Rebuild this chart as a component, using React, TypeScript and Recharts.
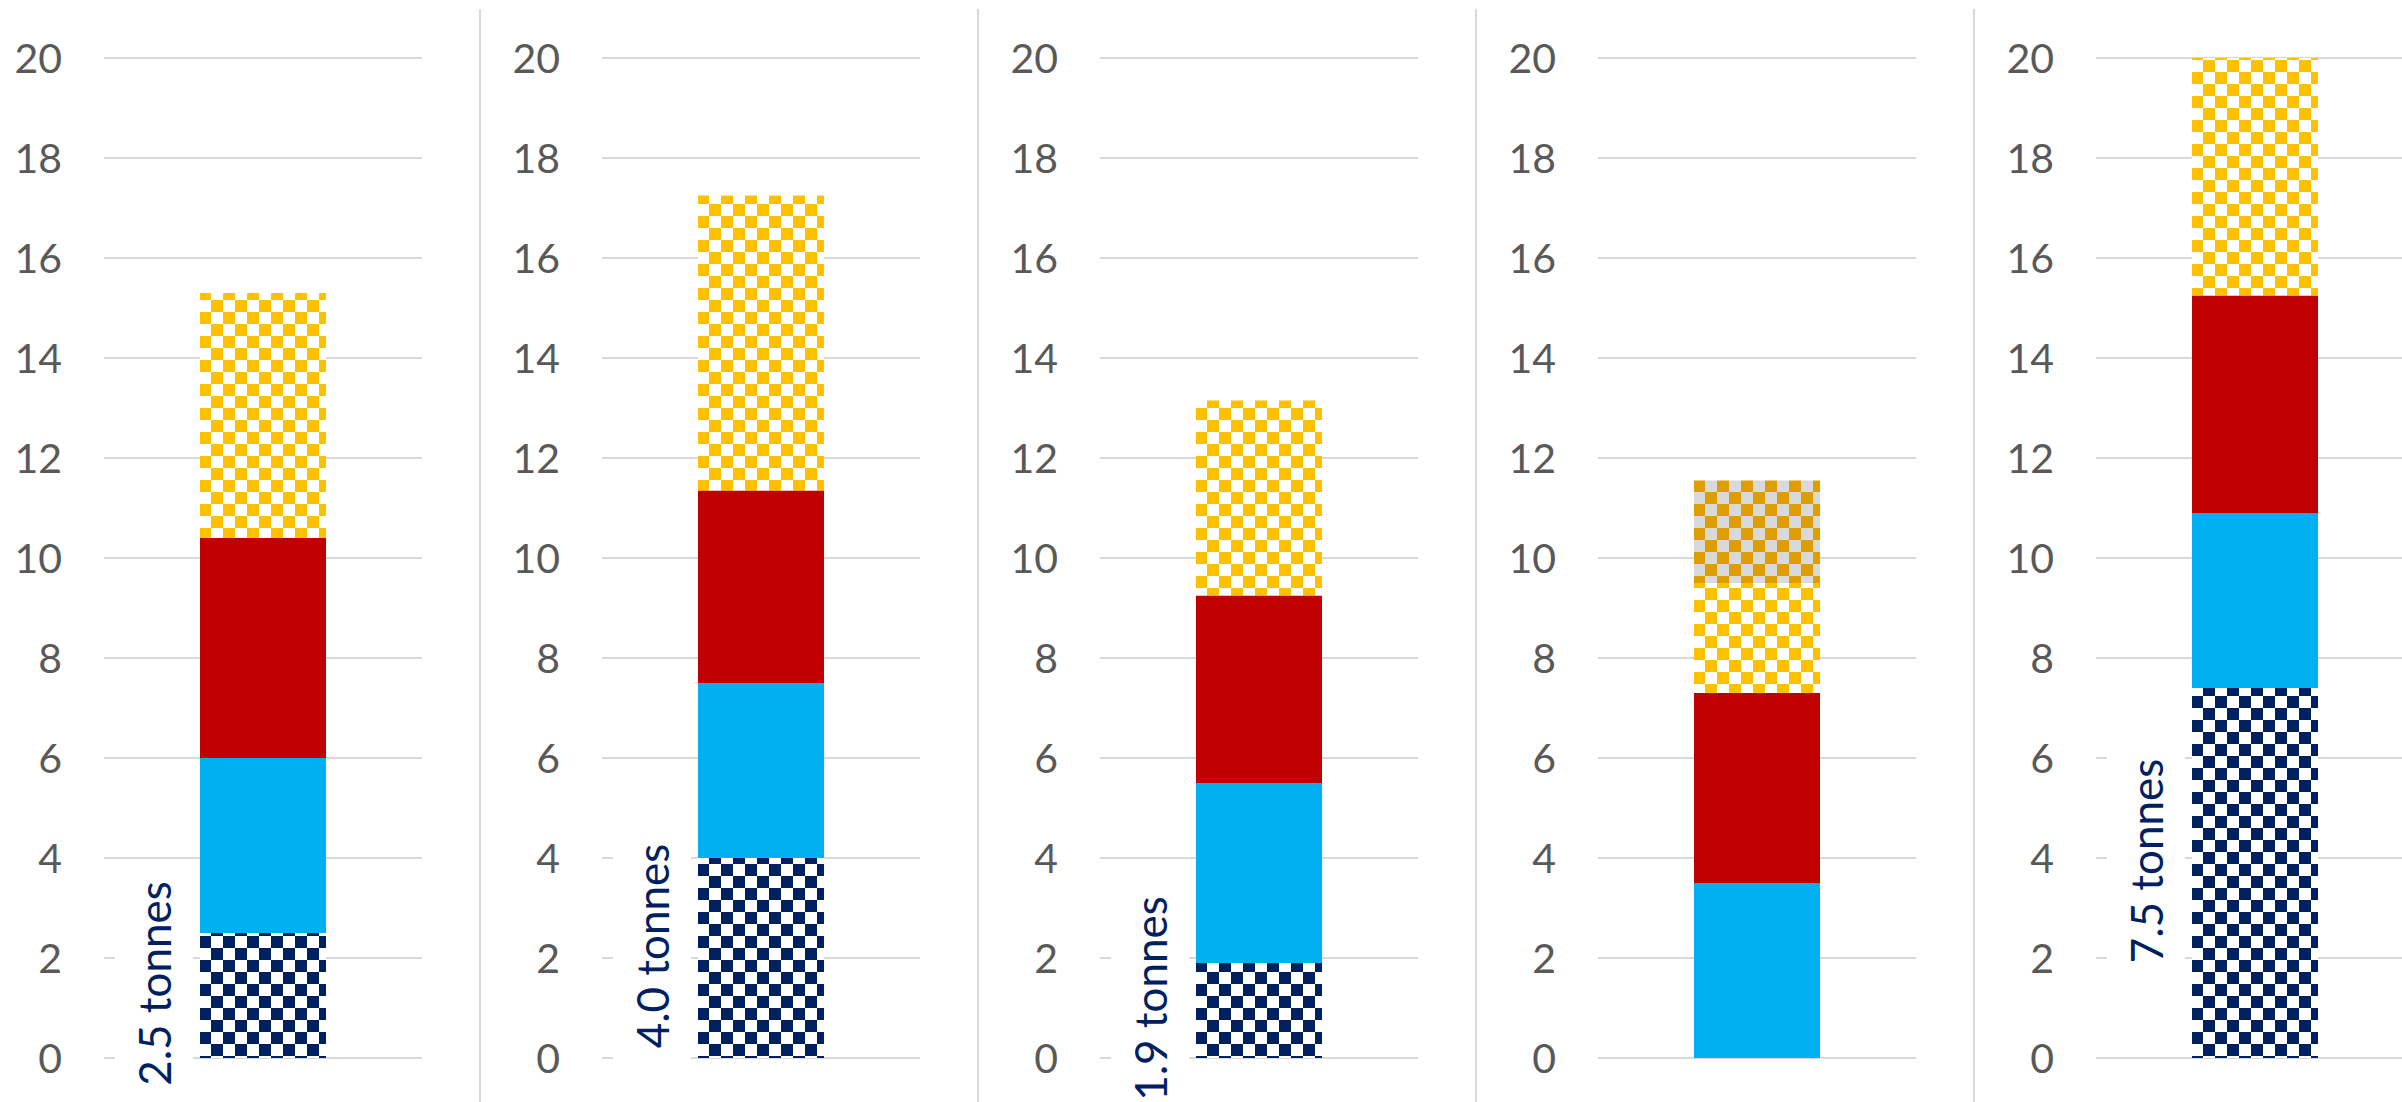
import { BarChart, Bar, XAxis, YAxis, CartesianGrid, LabelList } from 'recharts';

// one small chart per panel
const panels = ['Panel 1', 'Panel 2', 'Panel 3', 'Panel 4', 'Panel 5'];
const navy = [2.5, 4.0, 1.9, 0, 7.4];
const cyan = [3.5, 3.5, 3.6, 3.5, 3.5];
const red = [4.4, 3.85, 3.75, 3.8, 4.35];
const yellow = [4.9, 5.9, 3.9, 2.2, 4.75];
const yellowGrey = [0, 0, 0, 2.05, 0];
const navyLabels = ['2.5 tonnes', '4.0 tonnes', '1.9 tonnes', '', '7.5 tonnes'];
const yTicks = [0, 2, 4, 6, 8, 10, 12, 14, 16, 18, 20];

const PANEL_W = 498;
const PANEL_X0 = -17;

// rotated "x tonnes" label to the left of the navy segment
const renderTonnes = (props: any) => {
  const { x, y, width, height, value } = props;
  if (!value) return null;
  const cx = Number(x) - 7 - 39;
  const cy = Number(y) + Number(height) / 2 - 12;
  return (
    <g>
      <rect x={cx - 39} y={cy - 115} width={78} height={230} fill="#ffffff" />
      <text
        x={cx}
        y={cy}
        transform={`rotate(-90 ${cx} ${cy})`}
        textAnchor="middle"
        dominantBaseline="central"
        fill="#002060"
        fontSize={44}
        fontFamily="Lato"
      >
        {value}
      </text>
    </g>
  );
};

function Checker({ id, fg, bg }: { id: string; fg: string; bg: string }) {
  return (
    <pattern id={id} width={24} height={24} patternUnits="userSpaceOnUse">
      <rect x={0} y={0} width={24} height={24} fill={bg} />
      <rect x={0} y={0} width={12} height={12} fill={fg} />
      <rect x={12} y={12} width={12} height={12} fill={fg} />
    </pattern>
  );
}

function Panel({ i }: { i: number }) {
  const data = [
    {
      name: panels[i],
      navy: navy[i],
      cyan: cyan[i],
      red: red[i],
      yellow: yellow[i],
      yellowGrey: yellowGrey[i],
      label: navyLabels[i],
    },
  ];
  return (
    <div style={{ position: 'absolute', left: PANEL_X0 + PANEL_W * i, top: 0, width: PANEL_W, height: 1102 }}>
      <BarChart width={PANEL_W} height={1102} data={data} margin={{ top: 58, right: 59, bottom: 44, left: 0 }}>
        <defs>
          <Checker id={`navyChk${i}`} fg="#002060" bg="#ffffff" />
          <Checker id={`yellowChk${i}`} fg="#FFC000" bg="#ffffff" />
          <Checker id={`greyChk${i}`} fg="#DE9D00" bg="#D9D9D9" />
        </defs>
        <CartesianGrid vertical={false} stroke="#d9d9d9" strokeWidth={2} />
        <XAxis dataKey="name" hide />
        <YAxis
          width={121}
          domain={[0, 20]}
          ticks={yTicks}
          interval={0}
          axisLine={false}
          tickLine={false}
          tickSize={0}
          tickMargin={42}
          tick={{ fill: '#595959', fontSize: 41, fontFamily: 'Lato' }}
        />
        <Bar dataKey="navy" stackId="a" barSize={126} fill={`url(#navyChk${i})`} isAnimationActive={false}>
          <LabelList dataKey="label" content={renderTonnes} />
        </Bar>
        <Bar dataKey="cyan" stackId="a" barSize={126} fill="#00B0F0" isAnimationActive={false} />
        <Bar dataKey="red" stackId="a" barSize={126} fill="#C00000" isAnimationActive={false} />
        <Bar dataKey="yellow" stackId="a" barSize={126} fill={`url(#yellowChk${i})`} isAnimationActive={false} />
        <Bar dataKey="yellowGrey" stackId="a" barSize={126} fill={`url(#greyChk${i})`} isAnimationActive={false} />
      </BarChart>
      {i < panels.length - 1 && (
        <div style={{ position: 'absolute', left: 496, top: 9, width: 2, height: 1093, background: '#d9d9d9' }} />
      )}
    </div>
  );
}

export default function App() {
  return (
    <div style={{ position: 'absolute', left: 0, top: 0, width: 2402, height: 1102, overflow: 'hidden', background: '#ffffff' }}>
      {panels.map((_, i) => (
        <Panel key={i} i={i} />
      ))}
    </div>
  );
}
